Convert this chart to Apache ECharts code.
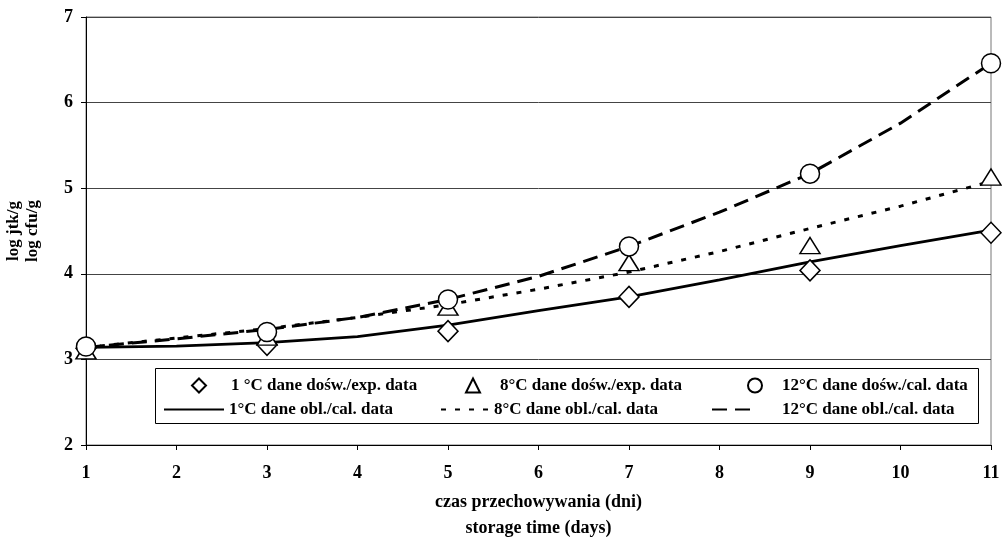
<!DOCTYPE html>
<html>
<head>
<meta charset="utf-8">
<script src="https://cdn.jsdelivr.net/npm/echarts@6/dist/echarts.min.js"></script>
<style>
  html, body { margin: 0; padding: 0; background: #fff; }
  #chart { width: 1002px; height: 544px; }
</style>
</head>
<body>
<div id="chart"></div>
<script>
// measured days (experimental points)
const expDays = [1, 3, 5, 7, 9, 11];
const exp1 = [3.13, 3.17, 3.33, 3.73, 4.04, 4.48];
const exp8 = [3.10, 3.26, 3.61, 4.13, 4.33, 5.13];
const exp12 = [3.15, 3.32, 3.70, 4.32, 5.17, 6.46];

// model curves
const calcDays = [1, 2, 3, 4, 5, 6, 7, 8, 9, 10, 11];
const calc1 = [3.14, 3.155, 3.195, 3.265, 3.40, 3.57, 3.73, 3.93, 4.14, 4.33, 4.51];
const calc8 = [3.14, 3.25, 3.36, 3.49, 3.64, 3.82, 4.02, 4.26, 4.53, 4.79, 5.08];
const calc12 = [3.14, 3.24, 3.35, 3.49, 3.70, 3.97, 4.32, 4.72, 5.17, 5.76, 6.46];

const names = [
  '1 °C dane dośw./exp. data',
  '8°C dane dośw./exp. data',
  '12°C dane dośw./cal. data',
  '1°C dane obl./cal. data',
  '8°C dane obl./cal. data',
  '12°C dane obl./cal. data'
];

const FONT = 'Liberation Serif';
const pairs = (xs, ys) => xs.map((x, i) => [x, ys[i]]);

const chart = echarts.init(document.getElementById('chart'));

const lineSeries = (name, ys, type, width) => ({
  name,
  type: 'line',
  data: pairs(calcDays, ys),
  symbol: 'none',
  color: '#000',
  lineStyle: { color: '#000', width, type },
  z: 2
});

const pointSeries = (name, ys, symbol, size, z) => ({
  name,
  type: 'scatter',
  data: pairs(expDays, ys),
  symbol,
  symbolSize: size,
  itemStyle: { color: '#fff', borderColor: '#000', borderWidth: 1.5, opacity: 1 },
  z
});

// one legend per entry so the columns line up like the original
const legendAt = (name, left, top, w, h, pad, isLine) => {
  const lg = {
    data: [name],
    left, top,
    orient: 'horizontal',
    padding: 0,
    itemWidth: w,
    itemHeight: h,
    selectedMode: false,
    z: 10,
    textStyle: { fontFamily: FONT, fontWeight: 'bold', fontSize: 17, color: '#000', padding: [0, 0, 0, pad] }
  };
  // line entries: hide the marker ECharts puts in the middle of the line icon
  if (isLine) lg.itemStyle = { opacity: 0 };
  return lg;
};

chart.setOption({
  backgroundColor: '#fff',
  animation: false,
  grid: {
    left: 86, right: 11, top: 17, bottom: 99,
    outerBoundsMode: 'none',
    containLabel: false,
    show: true, borderColor: '#777', borderWidth: 1, backgroundColor: 'transparent'
  },
  xAxis: {
    type: 'value',
    min: 1, max: 11, interval: 1,
    name: 'czas przechowywania (dni)\nstorage time (days)',
    nameLocation: 'middle',
    nameGap: 44,
    nameTextStyle: { fontFamily: FONT, fontWeight: 'bold', fontSize: 18, color: '#000', lineHeight: 26 },
    axisLine: { lineStyle: { color: '#000', width: 1 } },
    axisTick: { show: true, inside: false, length: 5, lineStyle: { color: '#000' } },
    axisLabel: { fontFamily: FONT, fontWeight: 'bold', fontSize: 18, color: '#000', margin: 19 },
    splitLine: { show: false }
  },
  yAxis: {
    type: 'value',
    min: 2, max: 7, interval: 1,
    name: 'log jtk/g\nlog cfu/g',
    nameLocation: 'middle',
    nameGap: 44,
    nameRotate: 90,
    nameTextStyle: { fontFamily: FONT, fontWeight: 'bold', fontSize: 17, color: '#000', lineHeight: 19 },
    axisLine: { show: true, lineStyle: { color: '#000', width: 1 } },
    axisTick: { show: true, length: 5, lineStyle: { color: '#000' } },
    axisLabel: { fontFamily: FONT, fontWeight: 'bold', fontSize: 18, color: '#000', margin: 13 },
    splitLine: { show: true, lineStyle: { color: '#444', width: 1 } }
  },
  graphic: [{
    type: 'rect',
    left: 155, top: 368,
    shape: { width: 823, height: 55 },
    style: { fill: '#fff', stroke: '#000', lineWidth: 1 },
    z: 5
  }],
  legend: [
    legendAt(names[0], 191, 377, 14, 14, 20, false),
    legendAt(names[1], 465, 377, 14, 14, 15, false),
    legendAt(names[2], 747, 377, 14, 14, 15, false),
    legendAt(names[3], 163, 401, 60, 14, 0, true),
    legendAt(names[4], 440, 401, 48, 14, 0, true),
    legendAt(names[5], 711, 401, 38, 14, 27, true)
  ],
  series: [
    lineSeries(names[3], calc1, 'solid', 2.8),
    lineSeries(names[4], calc8, [5, 9], 3),
    lineSeries(names[5], calc12, [15, 8], 3),
    pointSeries(names[0], exp1, 'diamond', [20, 21], 3),
    pointSeries(names[1], exp8, 'triangle', [20, 16], 4),
    pointSeries(names[2], exp12, 'circle', 19, 5)
  ]
});
</script>
</body>
</html>
